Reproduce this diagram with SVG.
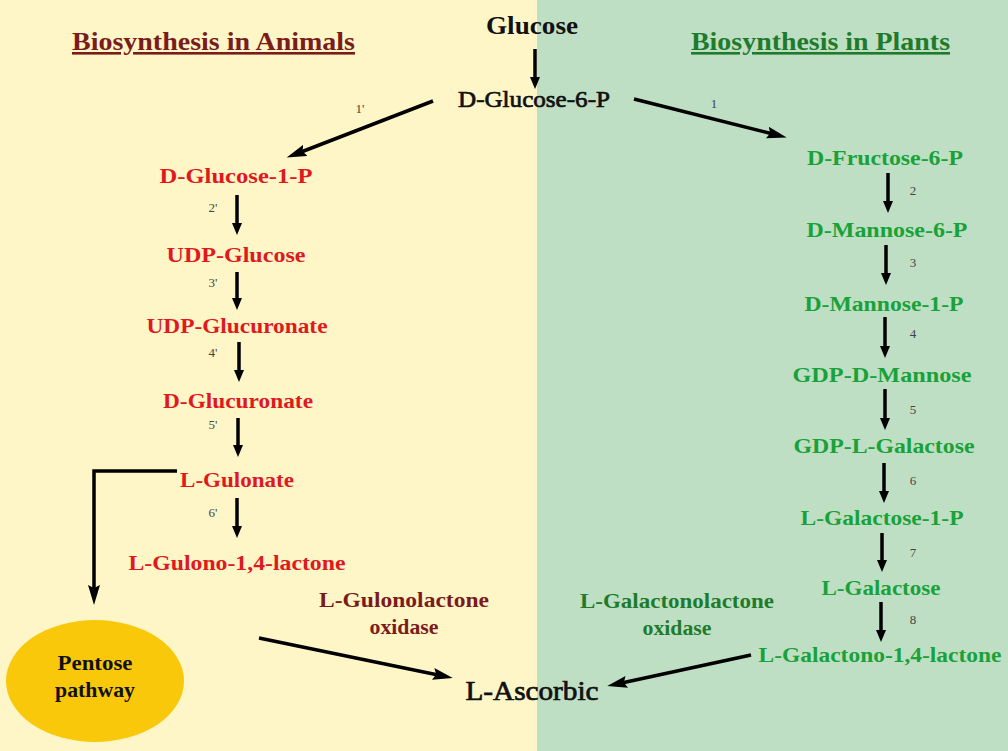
<svg xmlns="http://www.w3.org/2000/svg" width="1008" height="751" viewBox="0 0 1008 751">
<defs>
<style>
text{font-family:"Liberation Serif","Times New Roman",serif;}
.t{font-size:26px;font-weight:bold;text-decoration:underline;}
.an{fill:#7a1c1c;}
.pl{fill:#1f7b2c;}
.red{font-size:22px;font-weight:bold;fill:#e0191e;text-anchor:middle;}
.grn{font-size:22px;font-weight:bold;fill:#19a23a;text-anchor:middle;}
.blk{fill:#111;stroke:#111;stroke-width:0.7;text-anchor:middle;}
.enz{font-size:22px;font-weight:bold;text-anchor:middle;}
.step{font-size:13px;fill:#444;text-anchor:middle;}
.ln{stroke:#000;stroke-width:3.5;fill:none;}
.lv{stroke:#000;stroke-width:3.5;fill:none;marker-end:url(#hv);}
.ld{stroke:#000;stroke-width:3.5;fill:none;marker-end:url(#hd);}
</style>
<marker id="hv" viewBox="0 0 12 10" refX="4" refY="5" markerWidth="12" markerHeight="10" markerUnits="userSpaceOnUse" orient="auto"><path d="M0,0 L12,5 L0,10 Z" fill="#000"/></marker>
<marker id="hd" viewBox="0 0 20 12" refX="10" refY="6" markerWidth="20" markerHeight="12" markerUnits="userSpaceOnUse" orient="auto"><path d="M0,0 L20,6 L0,12 L3,6 Z" fill="#000"/></marker>
</defs>
<rect x="0" y="0" width="537" height="751" fill="#fff6c8"/>
<rect x="537" y="0" width="471" height="751" fill="#bfdfc4"/>

<g id="title-animals"><text class="t an" x="72" y="50" textLength="283" lengthAdjust="spacingAndGlyphs">Biosynthesis in Animals</text></g>
<g id="title-plants"><text class="t pl" x="691" y="50" textLength="259" lengthAdjust="spacingAndGlyphs">Biosynthesis in Plants</text></g>

<g id="glucose"><text x="532" y="34" font-size="25" font-weight="bold" fill="#111" text-anchor="middle" textLength="92" lengthAdjust="spacingAndGlyphs">Glucose</text></g>
<g id="glucose6p"><text class="blk" x="534" y="107" font-size="24" textLength="152" lengthAdjust="spacingAndGlyphs">D-Glucose-6-P</text></g>

<g id="a-glucose1p"><text class="red" x="236" y="183" textLength="153" lengthAdjust="spacingAndGlyphs">D-Glucose-1-P</text></g>
<g id="a-udpglucose"><text class="red" x="236" y="262" textLength="139" lengthAdjust="spacingAndGlyphs">UDP-Glucose</text></g>
<g id="a-udpglucuronate"><text class="red" x="237" y="333" textLength="181" lengthAdjust="spacingAndGlyphs">UDP-Glucuronate</text></g>
<g id="a-dglucuronate"><text class="red" x="238" y="408" textLength="150" lengthAdjust="spacingAndGlyphs">D-Glucuronate</text></g>
<g id="a-lgulonate"><text class="red" x="237" y="487" textLength="114" lengthAdjust="spacingAndGlyphs">L-Gulonate</text></g>
<g id="a-gulonolactone"><text class="red" x="237" y="570" textLength="217" lengthAdjust="spacingAndGlyphs">L-Gulono-1,4-lactone</text></g>
<g id="a-enzyme"><text class="enz an" x="404" y="607" textLength="170" lengthAdjust="spacingAndGlyphs">L-Gulonolactone</text><text class="enz an" x="404" y="634" textLength="69" lengthAdjust="spacingAndGlyphs">oxidase</text></g>
<g id="pentose"><ellipse cx="95" cy="681" rx="89" ry="61" fill="#f9c80a"/><text x="95" y="670" font-size="21" font-weight="bold" fill="#111" text-anchor="middle" textLength="75" lengthAdjust="spacingAndGlyphs">Pentose</text><text x="95" y="697" font-size="21" font-weight="bold" fill="#111" text-anchor="middle" textLength="80" lengthAdjust="spacingAndGlyphs">pathway</text></g>

<g id="p-fructose6p"><text class="grn" x="885" y="165" textLength="156" lengthAdjust="spacingAndGlyphs">D-Fructose-6-P</text></g>
<g id="p-mannose6p"><text class="grn" x="887" y="237" textLength="161" lengthAdjust="spacingAndGlyphs">D-Mannose-6-P</text></g>
<g id="p-mannose1p"><text class="grn" x="884" y="311" textLength="159" lengthAdjust="spacingAndGlyphs">D-Mannose-1-P</text></g>
<g id="p-gdpdmannose"><text class="grn" x="882" y="382" textLength="179" lengthAdjust="spacingAndGlyphs">GDP-D-Mannose</text></g>
<g id="p-gdplgalactose"><text class="grn" x="884" y="453" textLength="181" lengthAdjust="spacingAndGlyphs">GDP-L-Galactose</text></g>
<g id="p-lgalactose1p"><text class="grn" x="882" y="525" textLength="163" lengthAdjust="spacingAndGlyphs">L-Galactose-1-P</text></g>
<g id="p-lgalactose"><text class="grn" x="881" y="595" textLength="119" lengthAdjust="spacingAndGlyphs">L-Galactose</text></g>
<g id="p-galactonolactone"><text class="grn" x="880" y="662" textLength="243" lengthAdjust="spacingAndGlyphs">L-Galactono-1,4-lactone</text></g>
<g id="p-enzyme"><text class="enz pl" x="677" y="608" textLength="194" lengthAdjust="spacingAndGlyphs">L-Galactonolactone</text><text class="enz pl" x="677" y="635" textLength="69" lengthAdjust="spacingAndGlyphs">oxidase</text></g>

<g id="ascorbic"><text class="blk" x="532" y="700" font-size="27" textLength="133" lengthAdjust="spacingAndGlyphs">L-Ascorbic</text></g>

<g id="connectors">
<line class="lv" x1="535" y1="49" x2="535" y2="81"/>
<line class="ld" x1="433" y1="101" x2="296" y2="154"/>
<line class="ld" x1="634" y1="99" x2="777" y2="135"/>
<line class="lv" x1="237" y1="195" x2="237" y2="227"/>
<line class="lv" x1="237" y1="272" x2="237" y2="302"/>
<line class="lv" x1="239" y1="342" x2="239" y2="374"/>
<line class="lv" x1="238" y1="418" x2="238" y2="449"/>
<line class="lv" x1="237" y1="498" x2="237" y2="530"/>
<polyline class="ln" points="177,471 94,471 94,595" style="marker-end:url(#hd)"/>
<line class="ld" x1="259" y1="638" x2="443" y2="676"/>
<line class="lv" x1="888" y1="173" x2="888" y2="205"/>
<line class="lv" x1="886" y1="245" x2="886" y2="277"/>
<line class="lv" x1="885" y1="317" x2="885" y2="350"/>
<line class="lv" x1="885" y1="389" x2="885" y2="422"/>
<line class="lv" x1="884" y1="463" x2="884" y2="495"/>
<line class="lv" x1="882" y1="533" x2="882" y2="564"/>
<line class="lv" x1="881" y1="602" x2="881" y2="634"/>
<line class="ld" x1="751" y1="655" x2="617" y2="684"/>
</g>

<g id="step-labels">
<text class="step" x="360" y="113">1'</text>
<text class="step" x="714" y="108">1</text>
<text class="step" x="213" y="212">2'</text>
<text class="step" x="213" y="287">3'</text>
<text class="step" x="213" y="357">4'</text>
<text class="step" x="213" y="429">5'</text>
<text class="step" x="213" y="517">6'</text>
<text class="step" x="913" y="195">2</text>
<text class="step" x="913" y="267">3</text>
<text class="step" x="913" y="338">4</text>
<text class="step" x="913" y="414">5</text>
<text class="step" x="913" y="485">6</text>
<text class="step" x="913" y="557">7</text>
<text class="step" x="913" y="624">8</text>
</g>
</svg>
